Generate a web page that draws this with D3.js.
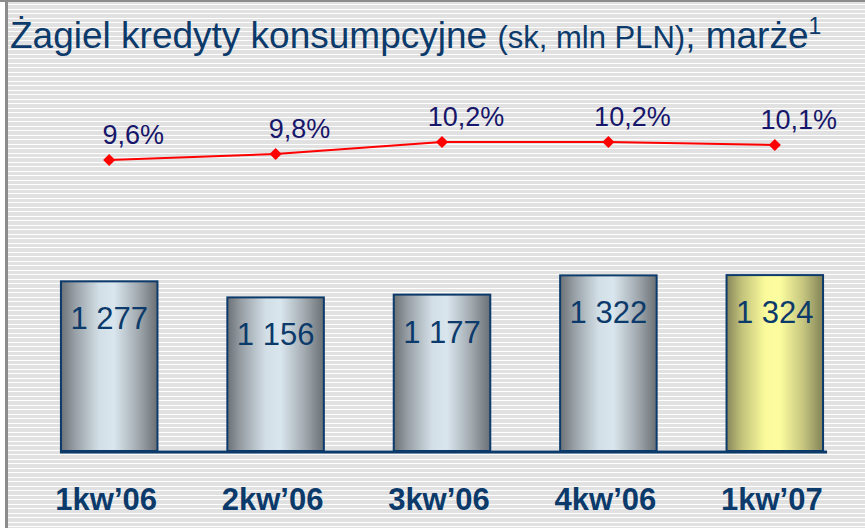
<!DOCTYPE html>
<html>
<head>
<meta charset="utf-8">
<script src="https://cdn.jsdelivr.net/npm/d3@7"></script>
<style>
  html, body { margin: 0; padding: 0; background: #fff; }
  svg { display: block; font-family: "Liberation Sans", Arial, sans-serif; }
</style>
</head>
<body>
<div id="chart"></div>
<script>
// data
var quarters = ["1kw\u201906", "2kw\u201906", "3kw\u201906", "4kw\u201906", "1kw\u201907"];
var loans = [1277, 1156, 1177, 1322, 1324];
var loanLabels = ["1 277", "1 156", "1 177", "1 322", "1 324"];
var margins = [9.6, 9.8, 10.2, 10.2, 10.1];
var marginLabels = ["9,6%", "9,8%", "10,2%", "10,2%", "10,1%"];

const width = 865, height = 528;
const navy = "#0b3a6b";

const svg = d3.select("#chart")
  .append("svg")
  .attr("width", width)
  .attr("height", height);

const defs = svg.append("defs");

// striped slide background
const stripes = defs.append("pattern")
  .attr("id", "stripes")
  .attr("patternUnits", "userSpaceOnUse")
  .attr("width", 10)
  .attr("height", 9);
stripes.append("rect").attr("width", 10).attr("height", 9).attr("fill", "#e1e1e1");
stripes.append("rect").attr("y", 0).attr("width", 10).attr("height", 1).attr("fill", "#ffffff");
stripes.append("rect").attr("y", 4).attr("width", 10).attr("height", 1).attr("fill", "#ffffff");

// cylinder-like gradients for the bars
function addGradient(id, stops) {
  const g = defs.append("linearGradient")
    .attr("id", id)
    .attr("x1", "0%").attr("x2", "100%")
    .attr("y1", "0%").attr("y2", "0%");
  stops.forEach(function(s) {
    g.append("stop").attr("offset", s[0]).attr("stop-color", s[1]);
  });
}
addGradient("steel", [["0%", "#6c7276"], ["15%", "#99a1a7"], ["40%", "#d3dfe7"], ["55%", "#dae6ee"], ["80%", "#a2aab0"], ["100%", "#6a7074"]]);
addGradient("gold", [["0%", "#86865a"], ["15%", "#c0c07a"], ["40%", "#fbfb9c"], ["55%", "#fdfda0"], ["80%", "#c4c47e"], ["100%", "#828258"]]);

svg.append("rect")
  .attr("width", width)
  .attr("height", height)
  .attr("fill", "#ffffff");
svg.append("rect")
  .attr("x", 7)
  .attr("y", 2)
  .attr("width", width - 7)
  .attr("height", height - 2)
  .attr("fill", "url(#stripes)");

// slide frame (top and left edges only)
svg.append("rect").attr("x", 0).attr("y", 0).attr("width", width).attr("height", 2).attr("fill", "#8c8c8c");
svg.append("rect").attr("x", 5).attr("y", 0).attr("width", 3).attr("height", height).attr("fill", "#8c8c8c");

// title
const title = svg.append("text")
  .attr("x", 10)
  .attr("y", 48)
  .attr("fill", navy)
  .style("font-size", "37px");
title.append("tspan").text("\u017bagiel kredyty konsumpcyjne ");
title.append("tspan").style("font-size", "31px").text("(sk, mln PLN)");
title.append("tspan").text("; mar\u017ce");
title.append("tspan").style("font-size", "23px").attr("dy", -14).text("1");

// scales
const x = d3.scaleBand()
  .domain(quarters)
  .range([26, 858])
  .paddingInner(0.42)
  .paddingOuter(0.21);

const baseY = 451;
const y = d3.scaleLinear()
  .domain([0, 1400])
  .range([baseY, baseY - 186]);

const yPct = d3.scaleLinear()
  .domain([9, 11])
  .range([178, 118]);

// bars
const bars = svg.append("g");
bars.selectAll("rect")
  .data(loans)
  .join("rect")
  .attr("x", function(d, i) { return x(quarters[i]); })
  .attr("y", function(d) { return y(d); })
  .attr("width", x.bandwidth())
  .attr("height", function(d) { return baseY - y(d); })
  .attr("fill", function(d, i) { return i == loans.length - 1 ? "url(#gold)" : "url(#steel)"; })
  .attr("stroke", navy)
  .attr("stroke-width", 2);

bars.selectAll("text")
  .data(loans)
  .join("text")
  .attr("x", function(d, i) { return x(quarters[i]) + x.bandwidth() / 2; })
  .attr("y", function(d) { return y(d) + 48; })
  .attr("text-anchor", "middle")
  .attr("fill", navy)
  .style("font-size", "31px")
  .text(function(d, i) { return loanLabels[i]; });

// baseline
svg.append("line")
  .attr("x1", x(quarters[0]) - 1)
  .attr("x2", x(quarters[quarters.length - 1]) + x.bandwidth() + 4)
  .attr("y1", baseY + 1)
  .attr("y2", baseY + 1)
  .attr("stroke", navy)
  .attr("stroke-width", 3);

// category labels
svg.append("g").selectAll("text")
  .data(quarters)
  .join("text")
  .attr("x", function(d) { return x(d) + x.bandwidth() / 2 - 3; })
  .attr("y", 510)
  .attr("text-anchor", "middle")
  .attr("fill", navy)
  .style("font-size", "31px")
  .style("font-weight", "bold")
  .text(function(d) { return d; });

// margin line
const cx = function(d, i) { return x(quarters[i]) + x.bandwidth() / 2; };
svg.append("path")
  .datum(margins)
  .attr("fill", "none")
  .attr("stroke", "#ff0000")
  .attr("stroke-width", 2)
  .attr("d", d3.line()
    .x(cx)
    .y(function(d) { return yPct(d); }));

svg.append("g").selectAll("path")
  .data(margins)
  .join("path")
  .attr("transform", function(d, i) { return `translate(${cx(d, i)},${yPct(d)}) rotate(45)`; })
  .attr("d", d3.symbol().type(d3.symbolSquare).size(74))
  .attr("fill", "#ff0000");

svg.append("g").selectAll("text")
  .data(margins)
  .join("text")
  .attr("x", function(d, i) { return cx(d, i) + 24; })
  .attr("y", function(d) { return yPct(d) - 16; })
  .attr("text-anchor", "middle")
  .attr("fill", "#16166a")
  .style("font-size", "27px")
  .text(function(d, i) { return marginLabels[i]; });
</script>
</body>
</html>
